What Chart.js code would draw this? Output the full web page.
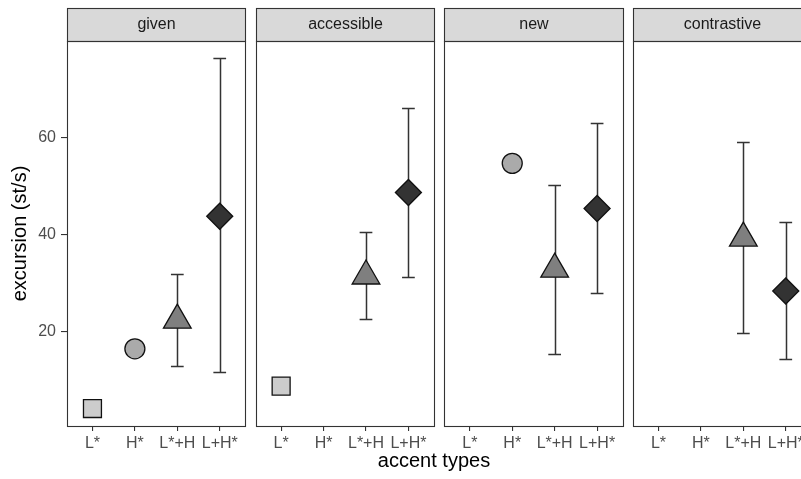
<!DOCTYPE html>
<html lang="en">
<head>
<meta charset="UTF-8">
<title>Excursion by accent type</title>
<script src="https://cdn.jsdelivr.net/npm/chart.js@4.4.1/dist/chart.umd.min.js"></script>
<style>
  html, body { margin: 0; padding: 0; background: #fff; overflow: hidden; }
  #wrap { position: relative; width: 801px; height: 479px; }
</style>
</head>
<body>
<div id="wrap"><canvas id="chart" width="801" height="479"></canvas></div>
<script>
// facets and accent categories
const panels = ['given', 'accessible', 'new', 'contrastive'];
const accents = ['L*', 'H*', 'L*+H', 'L+H*'];
const yTicks = [20, 40, 60];

// mean excursion per facet, in accent order (null = not present)
const givenMean       = [4.2, 16.5, 22.4, 43.8];
const accessibleMean  = [8.8, null, 31.5, 48.7];
const newMean         = [null, 54.7, 32.9, 45.4];
const contrastiveMean = [null, null, 39.3, 28.4];

// error bar ends
const givenLower       = [null, null, 13.0, 11.8];
const givenUpper       = [null, null, 31.9, 76.3];
const accessibleLower  = [null, null, 22.7, 31.3];
const accessibleUpper  = [null, null, 40.5, 66.2];
const newLower         = [null, null, 15.5, 28.0];
const newUpper         = [null, null, 50.2, 63.1];
const contrastiveLower = [null, null, 19.7, 14.4];
const contrastiveUpper = [null, null, 59.0, 42.7];

const means = [givenMean, accessibleMean, newMean, contrastiveMean];
const lowers = [givenLower, accessibleLower, newLower, contrastiveLower];
const uppers = [givenUpper, accessibleUpper, newUpper, contrastiveUpper];

// layout of the facets on one shared linear x axis
const PITCH = 4.447;   // distance between facet starts, in category units
const X_MIN = 0.4;
const X_MAX = 17.7;
const CAP = 0.15;      // half width of error bar caps
const FONT = "'Liberation Sans', Arial, sans-serif";

const shapes = [
  { style: 'rect',     radius: 12.7, fill: '#cccccc' },
  { style: 'circle',   radius: 10,   fill: '#aaaaaa' },
  { style: 'triangle', radius: 16,   fill: '#7f7f7f' },
  { style: 'rectRot',  radius: 13,   fill: '#333333' }
];

const datasets = accents.map((a, ai) => {
  const pts = [];
  panels.forEach((p, pi) => {
    if (means[pi][ai] == null) return;
    pts.push({ x: pi * PITCH + ai + 1, y: means[pi][ai], lo: lowers[pi][ai], hi: uppers[pi][ai] });
  });
  return {
    label: a,
    data: pts,
    pointStyle: shapes[ai].style,
    pointRadius: shapes[ai].radius,
    backgroundColor: shapes[ai].fill,
    borderColor: '#111111',
    borderWidth: 1.3
  };
});

// error bars, drawn under the points
const errorBars = {
  id: 'errorBars',
  beforeDatasetsDraw(chart) {
    const { ctx, chartArea, scales: { x, y } } = chart;
    ctx.save();
    ctx.beginPath();
    ctx.rect(chartArea.left, chartArea.top, chartArea.right - chartArea.left, chartArea.bottom - chartArea.top);
    ctx.clip();
    ctx.strokeStyle = '#333333';
    ctx.lineWidth = 1.5;
    chart.data.datasets.forEach(ds => {
      ds.data.forEach(d => {
        if (d.lo == null || d.hi == null) return;
        const px = Math.round(x.getPixelForValue(d.x)) + 0.5;
        const pl = x.getPixelForValue(d.x - CAP);
        const pr = x.getPixelForValue(d.x + CAP);
        const yl = Math.round(y.getPixelForValue(d.lo)) + 0.5;
        const yh = Math.round(y.getPixelForValue(d.hi)) + 0.5;
        ctx.beginPath();
        ctx.moveTo(px, yh); ctx.lineTo(px, yl);
        ctx.moveTo(pl, yh); ctx.lineTo(pr, yh);
        ctx.moveTo(pl, yl); ctx.lineTo(pr, yl);
        ctx.stroke();
      });
    });
    ctx.restore();
  }
};

// panel borders and strips
const facets = {
  id: 'facets',
  afterDraw(chart) {
    const { ctx, chartArea, scales: { x } } = chart;
    ctx.save();
    panels.forEach((p, pi) => {
      const l = Math.round(x.getPixelForValue(pi * PITCH + X_MIN)) + 0.5;
      const r = Math.round(x.getPixelForValue(pi * PITCH + 4.6)) + 0.5;
      const top = Math.round(chartArea.top) + 0.5;
      const bot = Math.round(chartArea.bottom) + 0.5;
      ctx.fillStyle = '#d9d9d9';
      ctx.fillRect(l, 8.5, r - l, top - 8.5);
      ctx.strokeStyle = '#333333';
      ctx.lineWidth = 1.1;
      ctx.strokeRect(l, 8.5, r - l, top - 8.5);
      ctx.strokeRect(l, top, r - l, bot - top);
      ctx.fillStyle = '#1a1a1a';
      ctx.font = '16px ' + FONT;
      ctx.textAlign = 'center';
      ctx.textBaseline = 'middle';
      ctx.fillText(p, (l + r) / 2, (8.5 + top) / 2);
    });
    ctx.restore();
  }
};

new Chart(document.getElementById('chart'), {
  type: 'scatter',
  data: { datasets },
  plugins: [errorBars, facets],
  options: {
    responsive: false,
    animation: false,
    events: [],
    layout: { autoPadding: false, padding: { top: 41, right: 0, bottom: 0, left: 0 } },
    plugins: { legend: { display: false }, tooltip: { enabled: false } },
    scales: {
      x: {
        type: 'linear',
        min: X_MIN,
        max: X_MAX,
        afterBuildTicks: s => {
          s.ticks = panels.flatMap((p, pi) => accents.map((a, ai) => ({ value: pi * PITCH + ai + 1 })));
        },
        afterFit: s => { s.height = 53; s.paddingLeft = 0; s.paddingRight = 0; },
        ticks: {
          autoSkip: false, maxRotation: 0, padding: 3, color: '#4d4d4d',
          font: { family: FONT, size: 16 },
          callback: (v, i) => accents[i % accents.length]
        },
        grid: { drawOnChartArea: false, drawTicks: true, tickLength: 5, color: '#333333', lineWidth: 1.1 },
        border: { display: false },
        title: { display: true, text: 'accent types', color: '#000', font: { family: FONT, size: 20 }, padding: { top: 0, bottom: 6 } }
      },
      y: {
        min: 0.6,
        max: 79.9,
        afterBuildTicks: s => { s.ticks = yTicks.map(v => ({ value: v })); },
        afterFit: s => { s.width = 67; s.paddingTop = 0; s.paddingBottom = 0; },
        ticks: { padding: 5, color: '#4d4d4d', font: { family: FONT, size: 16 } },
        grid: { drawOnChartArea: false, drawTicks: true, tickLength: 6, color: '#333333', lineWidth: 1.1 },
        border: { display: false },
        title: { display: true, text: 'excursion (st/s)', color: '#000', font: { family: FONT, size: 20 }, padding: { top: 8 } }
      }
    }
  }
});
</script>
</body>
</html>
